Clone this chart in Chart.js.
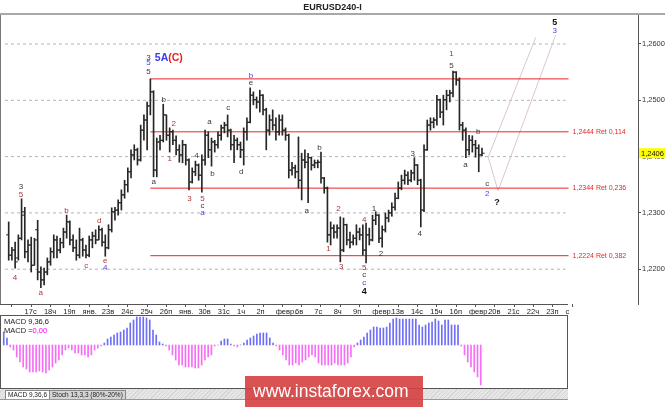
<!DOCTYPE html>
<html>
<head>
<meta charset="utf-8">
<script src="https://cdn.jsdelivr.net/npm/chart.js@4.4.1/dist/chart.umd.min.js"></script>
<style>
  body { margin: 0; width: 665px; height: 407px; overflow: hidden; position: relative; background: #fff; font-family: "Liberation Sans", Arial, sans-serif; }
  .abs { position: absolute; }
  #title { left: 0; top: 0; width: 665px; height: 13px; text-align: center; font: bold 9px "Liberation Sans"; line-height: 14px; color: #222; }
  #titleLine { left: 0; top: 13px; width: 665px; height: 2px; background: #a8a8a8; }
  #leftLine { left: 0; top: 15px; width: 1px; height: 289px; background: #777; }
  #bottomLine { left: 0; top: 304px; width: 568px; height: 1px; background: #555; }
  #main { left: 0; top: 0; }
  #macd { left: 0; top: 315px; }
  #macdBox { left: 0; top: 315px; width: 568px; height: 74px; box-sizing: border-box; border: 1px solid #555; }
  .macdTxt { left: 4px; font-size: 7.5px; color: #222; line-height: 9px; }
  #tabs { left: 0; top: 389px; width: 568px; height: 10px; border-bottom: 1px solid #999;
          background: repeating-linear-gradient(135deg, #e6e6e6 0 2px, #d6d6d6 2px 3px); }
  .tab { top: 1px; height: 8px; font-size: 6.5px; line-height: 8px; color: #222; border: 1px solid #888; border-bottom: none; padding: 0 2px; }
  #wm { left: 245px; top: 376px; width: 178px; height: 31px; background: rgba(214, 64, 64, 0.9);
        color: #fff; font: 17.5px "Liberation Sans"; line-height: 31px; padding-left: 8px; box-sizing: border-box; }
</style>
</head>
<body>
<canvas id="main" class="abs" width="665" height="316"></canvas>
<div id="title" class="abs">EURUSD240-I</div>
<div id="titleLine" class="abs"></div>
<div id="leftLine" class="abs"></div>
<div id="bottomLine" class="abs"></div>
<canvas id="macd" class="abs" width="568" height="73"></canvas>
<div id="macdBox" class="abs"></div>
<div class="abs macdTxt" style="top:317px">MACD 9,36,6</div>
<div class="abs macdTxt" style="top:326px">MACD =<span style="color:#ff00ff">0,00</span></div>
<div id="tabs" class="abs">
  <div class="abs tab" style="left:5px;background:#fff">MACD 9,36,6</div>
  <div class="abs tab" style="left:49px;background:#d4d4d4">Stoch 13,3,3 (80%-20%)</div>
</div>
<div id="wm" class="abs">www.instaforex.com</div>

<script>
// EURUSD H4 bars, 16 Jan - 19 Feb
const open = [
  1.2261, 1.2225, 1.2234, 1.2220, 1.2255, 1.2302, 1.2231, 1.2243, 1.2207, 1.2270,
  1.2195, 1.2181, 1.2195, 1.2213, 1.2231, 1.2252, 1.2234, 1.2247, 1.2266, 1.2284,
  1.2252, 1.2238, 1.2225, 1.2252, 1.2234, 1.2225, 1.2252, 1.2259, 1.2252, 1.2270,
  1.2248, 1.2238, 1.2270, 1.2302, 1.2305, 1.2318, 1.2332, 1.2350, 1.2373, 1.2403,
  1.2412, 1.2394, 1.2447, 1.2465, 1.2490, 1.2515, 1.2376, 1.2426, 1.2429, 1.2474,
  1.2438, 1.2444, 1.2429, 1.2412, 1.2403, 1.2421, 1.2394, 1.2355, 1.2373, 1.2385,
  1.2367, 1.2394, 1.2438, 1.2412, 1.2426, 1.2421, 1.2438, 1.2451, 1.2456, 1.2447,
  1.2421, 1.2429, 1.2421, 1.2412, 1.2444, 1.2461, 1.2509, 1.2501, 1.2497, 1.2509,
  1.2483, 1.2447, 1.2465, 1.2456, 1.2444, 1.2465, 1.2447, 1.2438, 1.2376, 1.2380,
  1.2373, 1.2358, 1.2394, 1.2390, 1.2398, 1.2385, 1.2389, 1.2390, 1.2362, 1.2344,
  1.2261, 1.2273, 1.2266, 1.2273, 1.2234, 1.2279, 1.2252, 1.2248, 1.2255, 1.2266,
  1.2261, 1.2234, 1.2261, 1.2252, 1.2287, 1.2296, 1.2255, 1.2270, 1.2291, 1.2300,
  1.2310, 1.2326, 1.2344, 1.2358, 1.2367, 1.2358, 1.2371, 1.2385, 1.2358, 1.2305,
  1.2412, 1.2456, 1.2461, 1.2465, 1.2501, 1.2479, 1.2501, 1.2509, 1.2513, 1.2550,
  1.2536, 1.2456, 1.2447, 1.2412, 1.2429, 1.2421, 1.2415, 1.2403
];
const high = [
  1.2284, 1.2239, 1.2248, 1.2261, 1.2325, 1.2310, 1.2252, 1.2257, 1.2255, 1.2287,
  1.2204, 1.2202, 1.2220, 1.2238, 1.2261, 1.2259, 1.2255, 1.2273, 1.2296, 1.2286,
  1.2261, 1.2252, 1.2273, 1.2255, 1.2243, 1.2259, 1.2266, 1.2270, 1.2277, 1.2273,
  1.2261, 1.2279, 1.2309, 1.2310, 1.2323, 1.2341, 1.2358, 1.2380, 1.2412, 1.2421,
  1.2415, 1.2456, 1.2474, 1.2497, 1.2538, 1.2517, 1.2433, 1.2438, 1.2493, 1.2474,
  1.2451, 1.2447, 1.2437, 1.2421, 1.2429, 1.2422, 1.2396, 1.2380, 1.2392, 1.2387,
  1.2403, 1.2447, 1.2444, 1.2433, 1.2429, 1.2444, 1.2456, 1.2461, 1.2474, 1.2449,
  1.2438, 1.2433, 1.2426, 1.2451, 1.2469, 1.2522, 1.2515, 1.2506, 1.2518, 1.2510,
  1.2486, 1.2474, 1.2483, 1.2469, 1.2474, 1.2474, 1.2451, 1.2440, 1.2390, 1.2385,
  1.2435, 1.2406, 1.2412, 1.2406, 1.2399, 1.2394, 1.2394, 1.2408, 1.2363, 1.2346,
  1.2284, 1.2279, 1.2279, 1.2293, 1.2291, 1.2280, 1.2266, 1.2261, 1.2279, 1.2273,
  1.2279, 1.2282, 1.2273, 1.2296, 1.2302, 1.2297, 1.2277, 1.2300, 1.2305, 1.2318,
  1.2335, 1.2355, 1.2367, 1.2376, 1.2373, 1.2376, 1.2398, 1.2386, 1.2360, 1.2421,
  1.2465, 1.2469, 1.2469, 1.2509, 1.2502, 1.2509, 1.2518, 1.2518, 1.2552, 1.2551,
  1.2540, 1.2461, 1.2451, 1.2438, 1.2437, 1.2429, 1.2421, 1.2415
];
const low = [
  1.2216, 1.2216, 1.2202, 1.2216, 1.2252, 1.2220, 1.2213, 1.2195, 1.2207, 1.2181,
  1.2167, 1.2172, 1.2190, 1.2207, 1.2220, 1.2220, 1.2229, 1.2238, 1.2255, 1.2243,
  1.2231, 1.2216, 1.2220, 1.2223, 1.2220, 1.2222, 1.2238, 1.2245, 1.2252, 1.2241,
  1.2223, 1.2236, 1.2266, 1.2287, 1.2296, 1.2305, 1.2326, 1.2337, 1.2362, 1.2394,
  1.2385, 1.2392, 1.2429, 1.2412, 1.2474, 1.2364, 1.2364, 1.2412, 1.2426, 1.2429,
  1.2408, 1.2421, 1.2403, 1.2390, 1.2389, 1.2385, 1.2341, 1.2353, 1.2366, 1.2358,
  1.2337, 1.2385, 1.2398, 1.2383, 1.2408, 1.2415, 1.2429, 1.2442, 1.2435, 1.2412,
  1.2389, 1.2412, 1.2398, 1.2385, 1.2429, 1.2460, 1.2492, 1.2486, 1.2479, 1.2474,
  1.2412, 1.2438, 1.2447, 1.2429, 1.2438, 1.2438, 1.2429, 1.2362, 1.2367, 1.2362,
  1.2344, 1.2323, 1.2380, 1.2318, 1.2376, 1.2380, 1.2380, 1.2353, 1.2335, 1.2248,
  1.2243, 1.2255, 1.2255, 1.2213, 1.2231, 1.2243, 1.2238, 1.2243, 1.2243, 1.2252,
  1.2225, 1.2211, 1.2243, 1.2250, 1.2279, 1.2247, 1.2239, 1.2266, 1.2284, 1.2294,
  1.2305, 1.2325, 1.2341, 1.2351, 1.2350, 1.2355, 1.2358, 1.2350, 1.2275, 1.2302,
  1.2411, 1.2447, 1.2451, 1.2456, 1.2469, 1.2456, 1.2483, 1.2497, 1.2506, 1.2527,
  1.2447, 1.2429, 1.2398, 1.2403, 1.2408, 1.2399, 1.2373, 1.2401
];
const close = [
  1.2225, 1.2234, 1.2213, 1.2255, 1.2296, 1.2231, 1.2243, 1.2207, 1.2252, 1.2195,
  1.2181, 1.2195, 1.2213, 1.2231, 1.2252, 1.2234, 1.2247, 1.2266, 1.2284, 1.2252,
  1.2238, 1.2225, 1.2252, 1.2234, 1.2225, 1.2252, 1.2259, 1.2252, 1.2270, 1.2248,
  1.2238, 1.2270, 1.2302, 1.2305, 1.2318, 1.2332, 1.2350, 1.2373, 1.2403, 1.2412,
  1.2394, 1.2447, 1.2465, 1.2490, 1.2515, 1.2376, 1.2426, 1.2429, 1.2474, 1.2438,
  1.2444, 1.2429, 1.2412, 1.2403, 1.2421, 1.2394, 1.2355, 1.2373, 1.2385, 1.2367,
  1.2394, 1.2438, 1.2412, 1.2426, 1.2421, 1.2438, 1.2451, 1.2456, 1.2447, 1.2421,
  1.2429, 1.2421, 1.2412, 1.2444, 1.2461, 1.2509, 1.2501, 1.2497, 1.2509, 1.2483,
  1.2447, 1.2465, 1.2456, 1.2444, 1.2465, 1.2447, 1.2438, 1.2376, 1.2380, 1.2373,
  1.2358, 1.2394, 1.2390, 1.2398, 1.2385, 1.2389, 1.2390, 1.2362, 1.2344, 1.2261,
  1.2273, 1.2266, 1.2273, 1.2234, 1.2279, 1.2252, 1.2248, 1.2255, 1.2266, 1.2261,
  1.2234, 1.2261, 1.2252, 1.2287, 1.2296, 1.2255, 1.2270, 1.2291, 1.2300, 1.2310,
  1.2326, 1.2344, 1.2358, 1.2367, 1.2358, 1.2371, 1.2385, 1.2358, 1.2305, 1.2412,
  1.2456, 1.2461, 1.2465, 1.2501, 1.2479, 1.2501, 1.2509, 1.2513, 1.2550, 1.2536,
  1.2456, 1.2447, 1.2412, 1.2429, 1.2421, 1.2415, 1.2403, 1.2406
];

// MACD 9,36,6 histogram, in points (0.0001)
const macdPts = [
  13, 7, -2, -5, -12, -17, -22, -24, -27, -27,
  -27, -26, -27, -28, -25, -22, -18, -15, -10, -5,
  -3, -5, -8, -8, -10, -10, -12, -10, -5, -3,
  -1, 2, 6, 8, 10, 12, 13, 15, 17, 22,
  25, 28, 28, 28, 27, 25, 15, 10, 3, 1,
  -1, -5, -10, -15, -20, -20, -22, -22, -22, -23,
  -23, -20, -15, -12, -10, -1, 0, 4, 6, 6,
  1, -1, -2, 0, 2, 5, 7, 9, 11, 12,
  12, 12, 7, 2, -1, -5, -10, -15, -20, -20,
  -18, -20, -17, -15, -12, -10, -12, -18, -20, -20,
  -20, -20, -18, -20, -20, -20, -18, -12, -2, 2,
  5, 8, 12, 15, 18, 18, 17, 17, 18, 22,
  26, 27, 26, 26, 26, 26, 26, 26, 20, 18,
  20, 22, 23, 26, 24, 20, 25, 25, 20, 20,
  20, -1, -10, -17, -22, -27, -32, -40
];

// day ticks: bar index of each day's first bar, and its label
const dayBars = [4, 10, 16, 22, 28, 34, 40, 46, 52, 58, 64, 70, 76, 82, 88, 94, 100,
  106, 112, 118, 124, 130, 136, 142, 148, 154, 160, 166, 172];
const dayLabels = ['17с', '18ч', '19п', 'янв.', '23в', '24с', '25ч', '26п', 'янв.', '30в', '31с',
  '1ч', '2п', 'февр.', '6в', '7с', '8ч', '9п', 'февр.', '13в', '14с', '15ч', '16п', 'февр.',
  '20в', '21с', '22ч', '23п', 'с'];
const priceTicks = [1.22, 1.23, 1.24, 1.25, 1.26];

// retracement levels from the 25 Jan high
const topLevel = 1.2538;
const retLevels = [1.2444, 1.2344, 1.2224];
const retRatios = ['0,114', '0,236', '0,382'];
const levelFromBar = 44;

// projected path after wave 2
const projA = [[148.93, 1.2399], [163.72, 1.2612]];
const projB = [[148.93, 1.2399], [152.01, 1.2339], [169.89, 1.2616]];

// wave marks: text, bar, price, degree
const waveLabels = [
  ['3', 3.78, 1.2346, 'n'], ['5', 3.78, 1.2332, 'm'], ['4', 1.94, 1.2184, 'm'],
  ['a', 9.95, 1.2158, 'm'], ['b', 17.96, 1.2303, 'm'], ['c', 24.12, 1.2206, 'm'],
  ['d', 28.13, 1.2286, 'm'], ['e', 29.98, 1.2215, 'm'], ['4', 29.98, 1.2202, 'i'],
  ['3', 43.4, 1.2575, 'n'], ['5', 43.4, 1.2566, 'i'], ['5', 43.4, 1.2550, 'n'],
  ['b', 48.16, 1.2501, 'n'], ['a', 45.08, 1.2355, 'n'], ['2', 51.24, 1.2458, 'm'],
  ['1', 50.0, 1.2396, 'm'], ['3', 56.17, 1.2325, 'm'], ['4', 58.33, 1.2401, 'n'],
  ['5', 60.18, 1.2325, 'm'], ['c', 60.18, 1.2312, 'n'], ['a', 60.18, 1.2300, 'i'],
  ['a', 62.34, 1.2461, 'n'], ['b', 63.26, 1.2369, 'n'], ['c', 68.19, 1.2486, 'n'],
  ['d', 72.2, 1.2373, 'n'], ['b', 75.28, 1.2543, 'i'], ['e', 75.28, 1.2531, 'n'],
  ['a', 92.54, 1.2303, 'n'], ['b', 96.54, 1.2415, 'n'], ['1', 99.32, 1.2236, 'm'],
  ['2', 102.4, 1.2307, 'm'], ['3', 103.32, 1.2204, 'm'], ['4', 110.41, 1.2287, 'm'],
  ['5', 110.41, 1.2202, 'm'], ['c', 110.41, 1.2190, 'n'], ['c', 110.41, 1.2175, 'i'],
  ['4', 110.41, 1.2161, 'p'], ['1', 113.49, 1.2307, 'n'], ['2', 115.65, 1.2227, 'n'],
  ['3', 125.51, 1.2405, 'n'], ['4', 127.67, 1.2263, 'n'], ['1', 137.53, 1.2582, 'i'],
  ['5', 137.53, 1.2561, 'n'], ['a', 141.84, 1.2385, 'n'], ['b', 145.85, 1.2444, 'n'],
  ['c', 148.62, 1.2351, 'n'], ['2', 148.62, 1.2334, 'i'], ['?', 151.7, 1.2318, 'p'],
  ['5', 169.58, 1.2639, 'p'], ['3', 169.58, 1.2623, 'i']
];
const waveHeader = { bar: 49.55, price: 1.2575, left: '5A', right: '(C)' };

const degreeStyle = {
  m: { color: '#a83a3a', font: '8px "Liberation Sans"' },
  n: { color: '#3a3a3a', font: '8px "Liberation Sans"' },
  i: { color: '#4646e6', font: '8px "Liberation Sans"' },
  p: { color: '#111', font: 'bold 9px "Liberation Sans"' }
};

const FONT = '"Liberation Sans", Arial, sans-serif';
const BAR = '#262626';
const RED = '#ea2424';
const xMin = -1.146, xMaxMain = 195.46, xMaxMacd = 173.89, gridEnd = 172.97, levelEnd = 173.89;
const fmt = v => v.toFixed(4).replace('.', ',');

const idx = close.map((_, i) => i);
const datasets = [
  { type: 'bar', data: idx.map(i => ({ x: i, y: [low[i], high[i]] })), backgroundColor: BAR,
    barThickness: 1, borderWidth: 0, grouped: false, order: 0 },
  { type: 'line', data: idx.map(i => ({ x: i - 0.42, y: open[i] })), showLine: false,
    pointStyle: 'line', pointRadius: 1.3, pointBorderWidth: 1, pointBorderColor: BAR, order: 0 },
  { type: 'line', data: idx.map(i => ({ x: i + 0.42, y: close[i] })), showLine: false,
    pointStyle: 'line', pointRadius: 1.3, pointBorderWidth: 1, pointBorderColor: BAR, order: 0 }
];
priceTicks.forEach(v => datasets.push({
  type: 'line', data: [{ x: xMin, y: v }, { x: gridEnd, y: v }], borderColor: '#b4b4b4',
  borderWidth: 1, borderDash: [3, 3], pointRadius: 0, order: 5
}));
[topLevel, ...retLevels].forEach(v => datasets.push({
  type: 'line', data: [{ x: levelFromBar, y: v }, { x: levelEnd, y: v }], borderColor: RED,
  borderWidth: 1, pointRadius: 0, order: 3
}));
[projA, projB].forEach(p => datasets.push({
  type: 'line', data: p.map(([x, y]) => ({ x, y })), borderColor: '#dcc6cc',
  borderWidth: 1, pointRadius: 0, order: 4
}));

const overlay = {
  id: 'overlay',
  afterDatasetsDraw(chart) {
    const { ctx, scales: { x, y } } = chart;
    ctx.save();
    ctx.textAlign = 'center';
    ctx.textBaseline = 'middle';
    waveLabels.forEach(([t, b, p, d]) => {
      ctx.font = degreeStyle[d].font;
      ctx.fillStyle = degreeStyle[d].color;
      ctx.fillText(t, x.getPixelForValue(b), y.getPixelForValue(p));
    });
    const hx = x.getPixelForValue(waveHeader.bar), hy = y.getPixelForValue(waveHeader.price);
    ctx.font = 'bold 10.5px ' + FONT;
    ctx.textAlign = 'right';
    ctx.fillStyle = '#3a3af0';
    ctx.fillText(waveHeader.left, hx, hy);
    ctx.textAlign = 'left';
    ctx.fillStyle = '#e02424';
    ctx.fillText(waveHeader.right, hx, hy);
    ctx.font = '7px ' + FONT;
    ctx.fillStyle = RED;
    retLevels.forEach((v, k) => {
      ctx.fillText(fmt(v) + ' Ret ' + retRatios[k], x.getPixelForValue(levelEnd) + 4, y.getPixelForValue(v));
    });
    ctx.restore();
  },
  afterDraw(chart) {
    const { ctx, chartArea, scales: { y } } = chart;
    const last = close[close.length - 1];
    const py = y.getPixelForValue(last);
    ctx.save();
    ctx.fillStyle = '#ffff00';
    ctx.fillRect(chartArea.right + 1, py - 5, 26, 10);
    ctx.fillStyle = '#111';
    ctx.font = '7.5px ' + FONT;
    ctx.textBaseline = 'middle';
    ctx.fillText(fmt(last), chartArea.right + 3, py + 0.5);
    ctx.restore();
  }
};

new Chart(document.getElementById('main'), {
  type: 'bar',
  data: { datasets },
  options: {
    responsive: false,
    animation: false,
    layout: { padding: { top: 15, left: 0, right: 0, bottom: 0 } },
    plugins: { legend: { display: false }, tooltip: { enabled: false } },
    scales: {
      x: {
        type: 'linear', min: xMin, max: xMaxMain, offset: false,
        afterFit: s => { s.height = 12; },
        afterBuildTicks: s => { s.ticks = dayBars.map(v => ({ value: v })); },
        ticks: { autoSkip: false, maxRotation: 0, minRotation: 0, align: 'start', labelOffset: 3,
                 padding: 0, callback: (v, i) => dayLabels[i], color: '#222',
                 font: { family: FONT, size: 7.5 } },
        grid: { drawOnChartArea: false, drawTicks: true, tickLength: 3, color: '#555' },
        border: { display: false }
      },
      y: {
        position: 'right', min: 1.21382, max: 1.26515,
        afterFit: s => { s.width = 27; },
        afterBuildTicks: s => { s.ticks = priceTicks.map(v => ({ value: v })); },
        ticks: { callback: v => fmt(v), color: '#333', padding: 1, font: { family: FONT, size: 7.5 } },
        grid: { drawOnChartArea: false, drawTicks: true, tickLength: 3, color: '#555' },
        border: { display: true, color: '#555' }
      }
    }
  },
  plugins: [overlay]
});

new Chart(document.getElementById('macd'), {
  type: 'bar',
  data: {
    datasets: [{
      data: idx.map(i => ({ x: i, y: macdPts[i] })),
      backgroundColor: macdPts.map(v => v >= 0 ? '#6e6ef7' : '#f56ef5'),
      barThickness: 1, borderWidth: 0
    }]
  },
  options: {
    responsive: false,
    animation: false,
    layout: { padding: 0 },
    plugins: { legend: { display: false }, tooltip: { enabled: false } },
    scales: {
      x: { type: 'linear', min: xMin, max: xMaxMacd, offset: false, display: false },
      y: { min: -43, max: 30, display: false }
    }
  }
});
</script>
</body>
</html>
